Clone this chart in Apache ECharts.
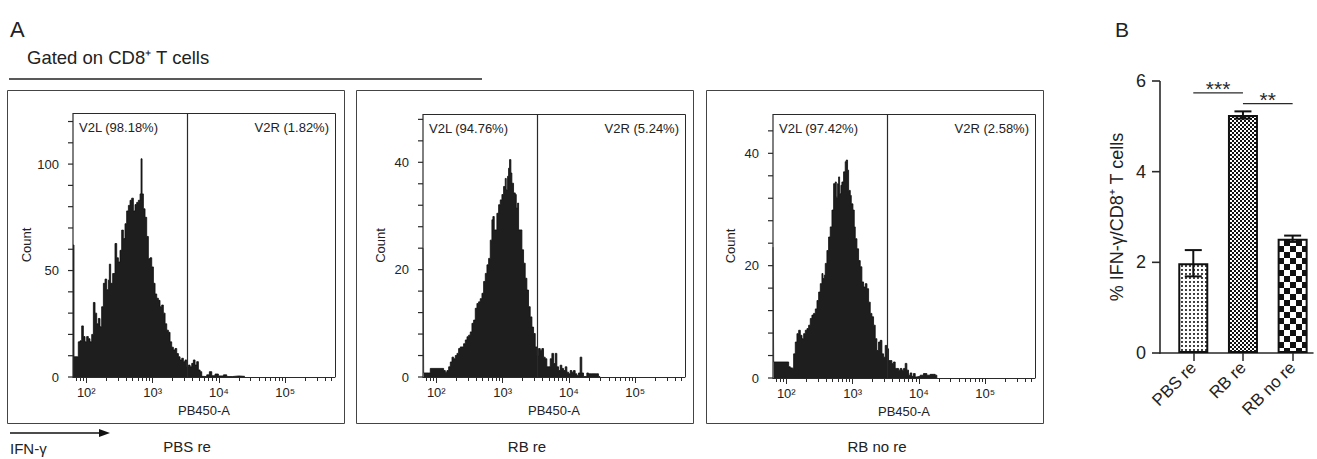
<!DOCTYPE html>
<html>
<head>
<meta charset="utf-8">
<script src="https://cdn.jsdelivr.net/npm/echarts@6/dist/echarts.min.js"></script>
<style>
html,body{margin:0;padding:0;background:#fff;}
#c{width:1317px;height:459px;}
</style>
</head>
<body>
<div id="c"></div>
<script>
// ---------------- DATA ----------------
const panelTitles = ['PBS re', 'RB re', 'RB no re'];
const gateLeftLabels = ['V2L (98.18%)', 'V2L (94.76%)', 'V2L (97.42%)'];
const gateRightLabels = ['V2R (1.82%)', 'V2R (5.24%)', 'V2R (2.58%)'];
const gateLog10 = 3.52;            // gate position, log10(PB450-A)
const xLogMin = 1.8, xLogMax = 5.75;
const xTickValues = [2, 3, 4, 5];
const xTickLabels = ['10²', '10³', '10⁴', '10⁵'];
const minorDecades = [1, 2, 3, 4, 5];
const minorMultipliers = [2, 3, 4, 5, 6, 7, 8, 9];

// PBS re histogram (x in log10 units of PB450-A, y = count)
const pbsLogIntensity = [1.800,1.815,1.865,1.880,1.906,1.931,1.956,1.981,2.006,2.031,2.056,2.082,2.107,2.132,2.157,2.182,2.207,2.232,2.258,2.283,2.308,2.333,2.348,2.368,2.398,2.433,2.459,2.484,2.509,2.534,2.559,2.584,2.609,2.635,2.660,2.685,2.710,2.735,2.760,2.785,2.811,2.826,2.841,2.861,2.886,2.911,2.936,2.961,2.987,3.012,3.037,3.062,3.087,3.112,3.137,3.162,3.188,3.213,3.238,3.263,3.288,3.313,3.338,3.364,3.389,3.414,3.439,3.464,3.489,3.514,3.540,3.565,3.590,3.615,3.640,3.665,3.690,3.716,3.741,3.766,3.816,3.856,3.892,3.942,3.992,4.068,4.118,4.200,4.300,4.390];
const pbsCount = [62,9.5,9.5,16.5,17,24,19,16.5,19,18,16.5,20,35,30,25,27.5,23.6,33,44,46,41,45.5,53,44,48.6,62.7,56,54,59.5,69,65,72,78,80.6,83,84,78,81,82,83,86,102.5,86,79,75,66,55.6,56,51.7,44,39,37,36,33,33.8,30,25,22,21,16.5,14,12.7,13.4,11,9.5,8,8.8,7.2,8,4.8,5.6,4.8,6.4,8,5.6,7.2,3.3,2.5,0.3,0.2,1,2.5,0.6,1.4,0.5,1,0.2,0.5,0.3,0];
const pbsYTicks = [0,10,20,30,40,50,60,70,80,90,100,110,120];
const pbsYLabels = [0, 50, 100];
const pbsYMax = 124;

// RB re histogram
const rbLogIntensity = [1.800,1.810,1.885,1.910,2.111,2.136,2.161,2.187,2.212,2.237,2.262,2.287,2.312,2.337,2.362,2.387,2.412,2.438,2.463,2.488,2.513,2.538,2.563,2.588,2.613,2.638,2.663,2.689,2.714,2.739,2.764,2.789,2.814,2.839,2.854,2.874,2.889,2.914,2.940,2.965,2.990,3.015,3.040,3.055,3.075,3.090,3.105,3.125,3.140,3.165,3.191,3.206,3.226,3.241,3.266,3.291,3.316,3.341,3.366,3.391,3.416,3.442,3.467,3.492,3.517,3.542,3.567,3.592,3.617,3.642,3.667,3.693,3.718,3.743,3.768,3.793,3.818,3.843,3.868,3.893,3.918,3.944,3.969,3.994,4.019,4.044,4.069,4.094,4.119,4.144,4.169,4.194,4.220,4.270,4.295,4.345,4.395,4.420,4.445,4.470];
const rbCount = [24,0.75,0.75,1.6,1.2,0.9,1.2,1.9,2.8,3.7,3.4,4,4.4,5.3,5.6,5.6,6.2,6.9,7.5,7.8,8.4,10,10.6,12.8,13.7,14,14.6,15.6,17.8,19.3,20.9,22.1,25.5,29.3,29.9,27.4,27.4,30.5,32.1,33,34,35.5,37,34.9,37.4,38.9,40.5,38,36.1,34.3,34,31.5,32.4,27.4,27.4,23.7,21.2,18.4,16.2,13.1,11.2,9.3,8.1,5.6,4,5.3,5,5.3,3.7,3.4,1.9,1.9,3.4,4.4,2.5,4.4,1.9,1.2,2.2,1.6,1.2,1.9,0.9,0.6,1.2,0.9,1.2,0.6,0.3,0.75,3.7,0.75,0.1,0.75,0.6,0.6,0.6,0.6,0.1,0];
const rbYTicks = [0,4,8,12,16,20,24,28,32,36,40,44,48];
const rbYLabels = [0, 20, 40];
const rbYMax = 49;

// RB no re histogram
const rbNoLogIntensity = [1.800,1.810,2.011,2.036,2.061,2.086,2.111,2.136,2.161,2.187,2.212,2.237,2.262,2.287,2.312,2.337,2.362,2.387,2.412,2.438,2.463,2.488,2.513,2.538,2.553,2.573,2.588,2.613,2.638,2.663,2.689,2.714,2.739,2.754,2.774,2.789,2.804,2.824,2.839,2.864,2.889,2.904,2.924,2.940,2.965,2.980,3.005,3.025,3.040,3.065,3.090,3.115,3.140,3.165,3.191,3.216,3.241,3.266,3.291,3.316,3.341,3.366,3.391,3.416,3.442,3.467,3.492,3.517,3.542,3.567,3.592,3.617,3.642,3.667,3.693,3.718,3.743,3.768,3.793,3.818,3.843,3.868,3.893,3.918,3.944,3.969,4.019,4.069,4.094,4.119,4.169,4.220,4.245,4.270];
const rbNoCount = [23.3,2.85,2.85,2,1.8,1.7,4.3,6.4,7.9,8.5,7.6,7,7.9,8.5,8.8,9.4,10.6,11.2,11.5,12.3,13.8,15.3,16.8,18.6,17.7,18.3,20.4,22.7,25.1,26.9,29.9,34.6,34.9,32.2,34.6,35.8,32.8,34.3,34.9,36.7,38.5,38.8,37,33.4,32.5,31,29.9,26.9,24.8,23,20.9,19.8,17.1,16.2,16.8,15.9,13.5,11.5,10.9,9.4,7,4.9,6.4,6.7,4.3,3.7,5.8,5.2,3.1,3.1,2.6,2.85,1.7,1.7,1.4,1.7,1.4,1.7,2.6,1.4,0.5,0.9,0.3,0.8,0.2,0.3,0.5,0.8,0.8,0.5,0.65,0.65,0.5,0];
const rbNoYTicks = [0,4,8,12,16,20,24,28,32,36,40,44];
const rbNoYLabels = [0, 20, 40];
const rbNoYMax = 47;

// Panel B bar chart
const barCategories = ['PBS re', 'RB re', 'RB no re'];
const barMeans = [1.98, 5.25, 2.52];
const barErrors = [0.29, 0.08, 0.07];
const sigBrackets = [[0, 1, 5.74], [1, 2, 5.5]];   // [from, to, level]
const sigLabels = ['***', '**'];
const barYTicks = [0, 2, 4, 6];

// ---------------- CHART ----------------
const FONT = '"Liberation Sans", Arial, Helvetica, sans-serif';
const TXT = '#222';
const AX = '#2a2a2a';

function pattern(kind) {
  const c = document.createElement('canvas');
  let s;
  if (kind === 'dots') {
    s = 4; c.width = s; c.height = s;
    const g = c.getContext('2d');
    g.fillStyle = '#fff'; g.fillRect(0, 0, s, s);
    g.fillStyle = '#111'; g.beginPath(); g.arc(2, 2, 1.05, 0, Math.PI * 2); g.fill();
  } else {
    const q = kind === 'fine' ? 2 : 6;
    s = q * 2; c.width = s; c.height = s;
    const g = c.getContext('2d');
    g.fillStyle = '#fff'; g.fillRect(0, 0, s, s);
    g.fillStyle = '#111'; g.fillRect(0, 0, q, q); g.fillRect(q, q, q, q);
  }
  return { image: c, repeat: 'repeat' };
}
const barPatterns = [pattern('dots'), pattern('fine'), pattern('coarse')];

const minorTickValues = [];
minorDecades.forEach(d => minorMultipliers.forEach(m => {
  const v = Math.log10(m) + d;
  if (v > xLogMin && v < xLogMax) minorTickValues.push(v);
}));

const solid = (w) => ({ color: AX, width: w, type: 'solid', opacity: 1 });
const noMinor = { minorTick: { show: false }, minorSplitLine: { show: false }, splitLine: { show: false }, splitArea: { show: false } };

// y axis (line + outward ticks) drawn through the axis scale
function yAxisSeries(xAxisIndex, yAxisIndex, xAt, ticks, yMax, len, width) {
  return {
    type: 'custom', xAxisIndex: xAxisIndex, yAxisIndex: yAxisIndex, silent: true, z: 6, clip: false,
    data: ticks.map(t => [xAt, t]),
    renderItem: (params, api) => {
      const p = api.coord([xAt, api.value(1)]);
      const kids = [{ type: 'rect', shape: { x: p[0] - len, y: p[1] - width / 2, width: len, height: width }, style: { fill: AX } }];
      if (params.dataIndex === 0) {
        const a = api.coord([xAt, 0]), b = api.coord([xAt, yMax]);
        kids.push({ type: 'rect', shape: { x: a[0] - width / 2, y: b[1], width: width, height: a[1] - b[1] + width / 2 }, style: { fill: AX } });
      }
      return { type: 'group', children: kids };
    }
  };
}

const panels = [
  { grid: { left: 73, top: 113, width: 262, height: 264 }, yMax: pbsYMax, yTicks: pbsYTicks, yLabels: pbsYLabels, xs: pbsLogIntensity, ys: pbsCount, nameGap: 39 },
  { grid: { left: 423, top: 114, width: 262, height: 263 }, yMax: rbYMax, yTicks: rbYTicks, yLabels: rbYLabels, xs: rbLogIntensity, ys: rbCount, nameGap: 36 },
  { grid: { left: 773, top: 114, width: 262, height: 264 }, yMax: rbNoYMax, yTicks: rbNoYTicks, yLabels: rbNoYLabels, xs: rbNoLogIntensity, ys: rbNoCount, nameGap: 36 }
];

const grids = [], xAxes = [], yAxes = [], series = [];
panels.forEach((p, i) => {
  grids.push(Object.assign({ show: false, containLabel: false }, p.grid));
  xAxes.push(Object.assign({
    type: 'value', gridIndex: i, min: xLogMin, max: xLogMax, position: 'bottom',
    axisLine: { show: true, onZero: false, lineStyle: solid(1) },
    axisTick: { show: true, inside: false, customValues: xTickValues, length: 6, lineStyle: solid(1) },
    axisLabel: { show: true, customValues: xTickValues, formatter: v => xTickLabels[xTickValues.indexOf(Math.round(v))], fontSize: 13, color: TXT, margin: 9, fontFamily: FONT },
    name: 'PB450-A', nameLocation: 'middle', nameGap: 27,
    nameTextStyle: { fontSize: 13, color: TXT, fontFamily: FONT }
  }, noMinor));
  xAxes.push(Object.assign({
    type: 'value', gridIndex: i, min: xLogMin, max: xLogMax, position: 'bottom', offset: 0,
    axisLine: { show: false, onZero: false },
    axisTick: { show: true, inside: false, customValues: minorTickValues, length: 4, lineStyle: solid(1) },
    axisLabel: { show: false, customValues: minorTickValues }
  }, noMinor));
  yAxes.push(Object.assign({
    type: 'value', gridIndex: i, min: 0, max: p.yMax,
    axisLine: { show: false, onZero: false },
    axisTick: { show: false },
    axisLabel: { show: true, customValues: p.yLabels, fontSize: 13, color: TXT, margin: 14, fontFamily: FONT },
    name: 'Count', nameLocation: 'middle', nameGap: p.nameGap, nameRotate: 90,
    nameTextStyle: { fontSize: 13, color: TXT, fontFamily: FONT }
  }, noMinor));
  const lbl = { show: true, fontSize: 13, color: TXT, fontFamily: FONT, distance: 6, offset: [0, 2] };
  series.push({
    type: 'line', xAxisIndex: i * 2, yAxisIndex: i, step: 'end', symbol: 'none', silent: true,
    data: p.xs.map((x, j) => [x, p.ys[j]]),
    lineStyle: { color: '#0d0d0d', width: 0.8 },
    areaStyle: { color: '#1e1e1e', opacity: 1 },
    z: 2,
    markLine: {
      symbol: ['none', 'none'], silent: true, label: { show: false },
      lineStyle: { color: AX, width: 1.2, type: 'solid' },
      data: [{ xAxis: gateLog10 }]
    },
    markArea: {
      silent: true, itemStyle: { color: 'rgba(0,0,0,0)', borderWidth: 0 },
      data: [
        [{ name: gateLeftLabels[i], xAxis: xLogMin, label: Object.assign({ position: 'insideTopLeft' }, lbl) }, { xAxis: gateLog10 }],
        [{ name: gateRightLabels[i], xAxis: gateLog10, label: Object.assign({ position: 'insideTopRight' }, lbl) }, { xAxis: xLogMax }]
      ]
    }
  });
  series.push(yAxisSeries(i * 2, i, xLogMin, p.yTicks, p.yMax, 5, 1.2));
});

// Panel B
grids.push({ left: 1160, top: 81, width: 153, height: 272, show: false, containLabel: false });
xAxes.push(Object.assign({
  type: 'value', gridIndex: 3, min: -0.67, max: 2.41, position: 'bottom',
  axisLine: { show: true, onZero: false, lineStyle: solid(1.5) },
  axisTick: { show: true, inside: false, customValues: [0, 1, 2], length: 8, lineStyle: solid(1.5) },
  axisLabel: { show: true, customValues: [0, 1, 2], formatter: v => barCategories[Math.round(v)], rotate: 45, fontSize: 17, color: TXT, margin: 12, fontFamily: FONT }
}, noMinor));
yAxes.push(Object.assign({
  type: 'value', gridIndex: 3, min: 0, max: 6,
  axisLine: { show: false, onZero: false },
  axisTick: { show: false },
  axisLabel: { show: true, customValues: barYTicks, fontSize: 18, color: TXT, margin: 14, fontFamily: FONT },
  name: '% IFN-γ/CD8⁺ T cells', nameLocation: 'middle', nameGap: 34, nameRotate: 90,
  nameTextStyle: { fontSize: 18, color: TXT, fontFamily: FONT }
}, noMinor));
series.push({
  type: 'bar', xAxisIndex: 6, yAxisIndex: 3, barWidth: 30, silent: true, z: 2,
  data: barMeans.map((v, i) => ({ value: [i, v], itemStyle: { color: barPatterns[i] } })),
  itemStyle: { borderColor: '#111', borderWidth: 2 }
});
series.push({
  type: 'custom', xAxisIndex: 6, yAxisIndex: 3, silent: true, z: 4,
  data: barMeans.map((v, i) => [i, v, barErrors[i]]),
  renderItem: (params, api) => {
    const x = api.value(0), m = api.value(1), e = api.value(2);
    const t = api.coord([x, m + e]), b = api.coord([x, m - e]);
    const hw = 8.5, st = { stroke: '#111', lineWidth: 2 };
    return { type: 'group', children: [
      { type: 'line', shape: { x1: t[0], y1: t[1], x2: b[0], y2: b[1] }, style: st },
      { type: 'line', shape: { x1: t[0] - hw, y1: t[1], x2: t[0] + hw, y2: t[1] }, style: st },
      { type: 'line', shape: { x1: b[0] - hw, y1: b[1], x2: b[0] + hw, y2: b[1] }, style: st }
    ] };
  }
});
series.push({
  type: 'custom', xAxisIndex: 6, yAxisIndex: 3, silent: true, z: 4,
  data: sigBrackets.map(s => [s[0], s[1], s[2]]),
  encode: { x: [0, 1], y: 2 },
  renderItem: (params, api) => {
    const a = api.coord([api.value(0), api.value(2)]), b = api.coord([api.value(1), api.value(2)]);
    return { type: 'group', children: [
      { type: 'line', shape: { x1: a[0], y1: a[1], x2: b[0], y2: b[1] }, style: { stroke: AX, lineWidth: 1.3 } },
      { type: 'text', x: (a[0] + b[0]) / 2, y: a[1] - 4,
        style: { text: sigLabels[params.dataIndex], fontSize: 21, fill: AX, fontFamily: FONT, align: 'center', verticalAlign: 'middle' } }
    ] };
  }
});
series.push(yAxisSeries(6, 3, -0.67, barYTicks, 6, 8, 1.6));

// layout graphics (panel frames, plot box top/right edges, headers)
const txt = (text, x, y, size, align) => ({
  type: 'text', x: x, y: y, silent: true,
  style: { text: text, fontSize: size, fontFamily: FONT, fill: TXT, align: align || 'left', verticalAlign: 'middle' }
});
const box = (x, y, w, h, color) => ({ type: 'rect', silent: true, shape: { x: x, y: y, width: w, height: h }, style: { fill: 'none', stroke: color, lineWidth: 1 } });
const seg = (x1, y1, x2, y2) => ({ type: 'line', silent: true, shape: { x1: x1, y1: y1, x2: x2, y2: y2 }, style: { stroke: AX, lineWidth: 1 } });
const graphics = [
  txt('A', 10, 29, 22),
  txt('Gated on CD8⁺ T cells', 27, 57, 18.5),
  { type: 'line', silent: true, shape: { x1: 9, y1: 79, x2: 482, y2: 79 }, style: { stroke: '#222', lineWidth: 1.5 } },
  box(7.5, 90.5, 337, 333, '#444'),
  box(356.5, 90.5, 337, 333, '#444'),
  box(706.5, 90.5, 337, 333, '#444'),
  seg(73, 113.5, 335.5, 113.5), seg(335.5, 113.5, 335.5, 377),
  seg(423, 114.5, 685.5, 114.5), seg(685.5, 114.5, 685.5, 377),
  seg(773, 114.5, 1035.5, 114.5), seg(1035.5, 114.5, 1035.5, 378),
  txt(panelTitles[0], 187, 446, 15, 'center'),
  txt(panelTitles[1], 527, 446, 15, 'center'),
  txt(panelTitles[2], 877, 446, 15, 'center'),
  { type: 'line', silent: true, shape: { x1: 10, y1: 433, x2: 100, y2: 433 }, style: { stroke: '#111', lineWidth: 1.3 } },
  { type: 'polygon', silent: true, shape: { points: [[99, 429], [110, 433], [99, 437]] }, style: { fill: '#111' } },
  txt('IFN-γ', 10, 448, 15),
  txt('B', 1115, 29, 21)
];

const chart = echarts.init(document.getElementById('c'), null, { renderer: 'svg', width: 1317, height: 459 });
chart.setOption({
  animation: false,
  backgroundColor: '#fff',
  textStyle: { fontFamily: FONT },
  grid: grids, xAxis: xAxes, yAxis: yAxes, series: series,
  graphic: graphics
});
</script>
</body>
</html>
